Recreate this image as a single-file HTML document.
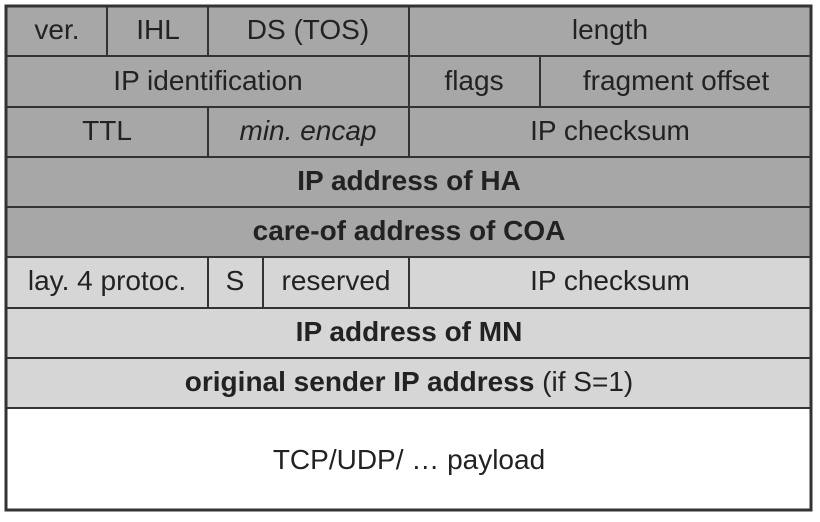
<!DOCTYPE html>
<html><head><style>
body{margin:0;background:#fff}
svg text{font-family:"Liberation Sans",Arial,sans-serif;font-size:28px;fill:#222;text-anchor:middle}
.b{font-weight:bold}
</style></head><body>
<svg width="820" height="517" viewBox="0 0 820 517" xmlns="http://www.w3.org/2000/svg">
<rect x="6" y="6" width="805" height="251" fill="#a7a7a7"/>
<rect x="6" y="257" width="805" height="151" fill="#d6d6d6"/>
<rect x="6" y="408" width="805" height="102" fill="#fff"/>
<g stroke="#333" stroke-width="2">
<line x1="6" y1="56" x2="811" y2="56"/>
<line x1="6" y1="107" x2="811" y2="107"/>
<line x1="6" y1="157" x2="811" y2="157"/>
<line x1="6" y1="207" x2="811" y2="207"/>
<line x1="6" y1="257" x2="811" y2="257"/>
<line x1="6" y1="308" x2="811" y2="308"/>
<line x1="6" y1="358" x2="811" y2="358"/>
<line x1="6" y1="408" x2="811" y2="408"/>
<line x1="107" y1="6" x2="107" y2="56"/>
<line x1="208" y1="6" x2="208" y2="56"/>
<line x1="409" y1="6" x2="409" y2="157"/>
<line x1="540" y1="56" x2="540" y2="107"/>
<line x1="208" y1="107" x2="208" y2="157"/>
<line x1="208" y1="257" x2="208" y2="308"/>
<line x1="263" y1="257" x2="263" y2="308"/>
<line x1="409" y1="257" x2="409" y2="308"/>
</g>
<rect x="6" y="6" width="805" height="504" fill="none" stroke="#333" stroke-width="3"/>
<text x="57" y="39">ver.</text>
<text x="158" y="39">IHL</text>
<text x="308" y="39">DS (TOS)</text>
<text x="610" y="39">length</text>
<text x="208" y="90">IP identification</text>
<text x="474" y="90">flags</text>
<text x="676" y="90">fragment offset</text>
<text x="107" y="140">TTL</text>
<text x="308" y="140" font-style="italic">min. encap</text>
<text x="610" y="140">IP checksum</text>
<text x="409" y="190" class="b">IP address of HA</text>
<text x="409" y="240" class="b">care-of address of COA</text>
<text x="107" y="290">lay. 4 protoc.</text>
<text x="235" y="290">S</text>
<text x="336" y="290">reserved</text>
<text x="610" y="290">IP checksum</text>
<text x="409" y="341" class="b">IP address of MN</text>
<text x="409" y="391"><tspan class="b">original sender IP address</tspan> (if S=1)</text>
<text x="409" y="469">TCP/UDP/ … payload</text>
</svg>
</body></html>
